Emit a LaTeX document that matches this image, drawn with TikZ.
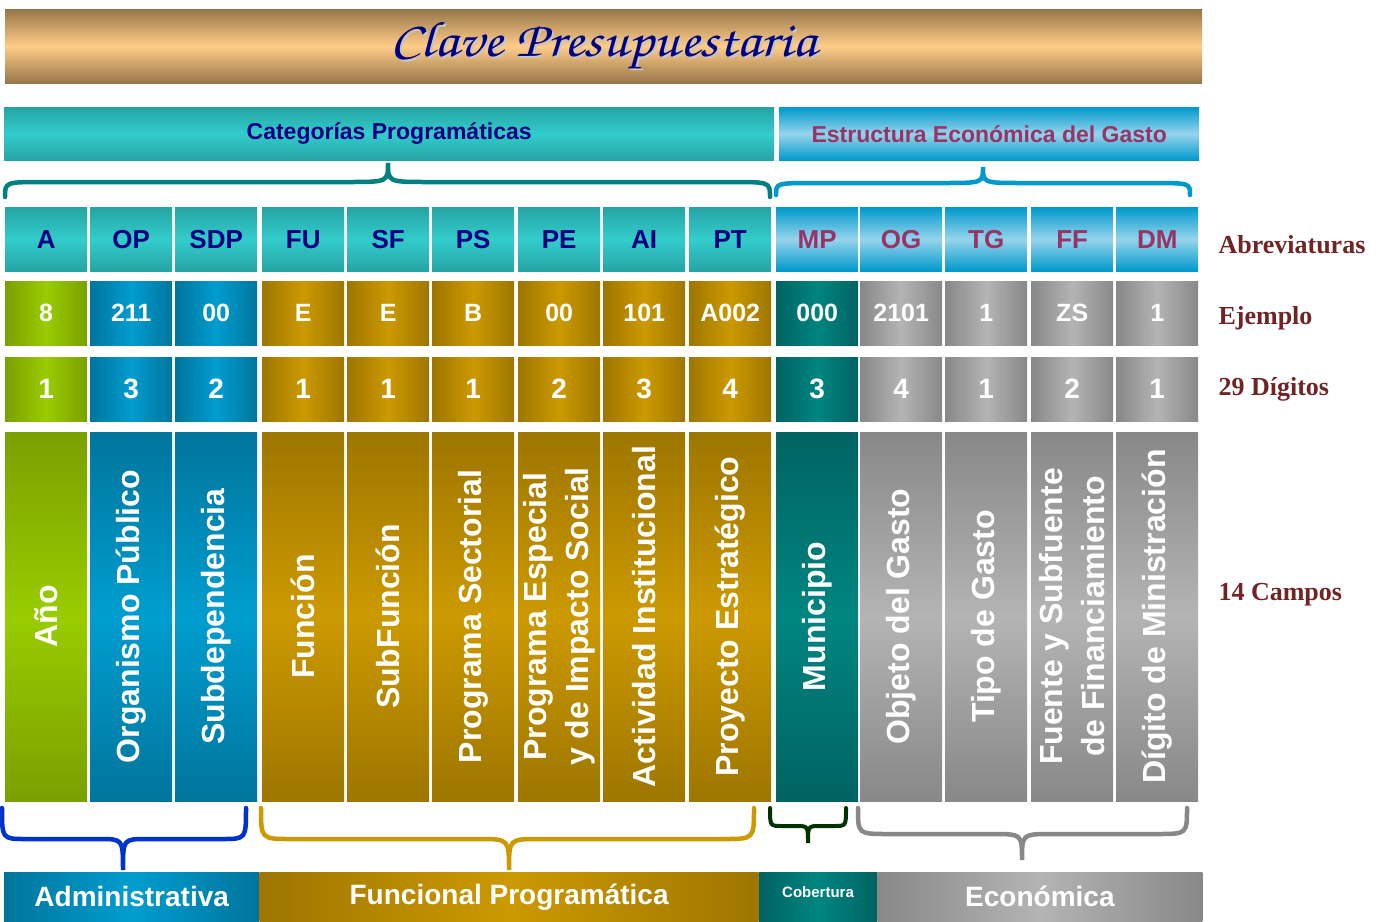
\documentclass[tikz,border=0pt]{standalone}
\usepackage{fontspec}
\setmainfont{Liberation Sans}
\newfontfamily\romana{Liberation Serif}
\usetikzlibrary{positioning}

\definecolor{cabT}{RGB}{38,164,164}
\definecolor{cabTc}{RGB}{51,204,204}
\definecolor{cabA}{RGB}{0,153,204}
\definecolor{cabAc}{RGB}{150,212,236}
\definecolor{azulT}{RGB}{0,0,128}
\definecolor{rosa}{RGB}{153,51,102}
\definecolor{verB}{RGB}{122,160,0}
\definecolor{verC}{RGB}{153,204,0}
\definecolor{azuB}{RGB}{0,117,156}
\definecolor{azuC}{RGB}{0,157,207}
\definecolor{oroB}{RGB}{158,118,0}
\definecolor{oroC}{RGB}{204,153,0}
\definecolor{tealB}{RGB}{0,99,99}
\definecolor{tealC}{RGB}{0,133,128}
\definecolor{grisB}{RGB}{136,136,136}
\definecolor{grisC}{RGB}{180,180,180}
\definecolor{cafeB}{RGB}{150,118,72}
\definecolor{cafeC}{RGB}{255,204,136}
\definecolor{vino}{RGB}{112,36,36}
\definecolor{llaveAz}{RGB}{0,51,204}
\definecolor{llaveVd}{RGB}{0,51,0}

\newcommand{\letracursiva}{\fontencoding{OT1}\fontfamily{pzc}\fontseries{mb}\fontshape{it}\fontsize{50}{54}\selectfont}
% llave: grosor, color, x izq, x der, x punta, y extremos, y tramo, y punta, radio
\newcommand{\llave}[9][4.5pt]{\draw[line width=#1,line cap=round,#2] (#3,#6) .. controls (#3,#7) .. (#3+#9,#7) -- (#5-#9,#7) .. controls (#5,#7) .. (#5,#8) .. controls (#5,#7) .. (#5+#9,#7) -- (#4-#9,#7) .. controls (#4,#7) .. (#4,#6);}

\begin{document}
\begin{tikzpicture}[x=1pt,y=-1pt,
    hsombra/.style 2 args={left color=#1,right color=#1,middle color=#2},
    vsombra/.style 2 args={top color=#1,bottom color=#1,middle color=#2},
    cabecera/.style={anchor=north west,minimum height=53pt,inner sep=0pt,font=\fontsize{23}{28}\selectfont\bfseries},
    abrev/.style={anchor=north west,minimum width=82pt,minimum height=64pt,inner sep=0pt,font=\fontsize{26}{30}\selectfont\bfseries},
    celda/.style={abrev,text=white,font=\fontsize{25}{30}\selectfont\bfseries},
    digito/.style={abrev,text=white,font=\fontsize{28}{30}\selectfont\bfseries},
    campo/.style={rotate=90,minimum width=369pt,minimum height=82pt,inner sep=0pt,align=center,text=white,font=\fontsize{32}{42}\selectfont\bfseries},
    barra/.style={anchor=north west,minimum height=49pt,inner sep=0pt,text=white,font=\fontsize{28}{32}\selectfont\bfseries},
    etiq/.style={anchor=base west,text=vino,font=\romana\fontsize{26}{30}\selectfont\bfseries}]
  \useasboundingbox[fill=white] (0,0) rectangle (1383,921);

  % titulo
  \node[anchor=north west,minimum width=1197pt,minimum height=74pt,inner sep=0pt,vsombra={cafeB}{cafeC}] (titulo) at (5,9) {};
  \node[text=gray!45,xscale=1.15] (sombra) at ([shift={(2,2)}]titulo.center) {\letracursiva Clave Presupuestaria};
  \node[text=azulT,xscale=1.15] (tit) at (titulo.center) {\letracursiva Clave Presupuestaria};

  % cabeceras
  \node[cabecera,minimum width=770pt,vsombra={cabT}{cabTc},text=azulT] (catprog) at (4,107) {Categorías Programáticas};
  \node[cabecera,minimum width=420pt,vsombra={cabA}{cabAc},text=rosa] (estruc) at (779,107) {Estructura Económica del Gasto};
  \llave{teal}{5}{770}{388}{197}{182}{163}{40}
  \llave{cabA}{776}{1190}{983}{195}{183}{167}{40}

  % abreviaturas
  \foreach \ii/\xx/\ab in {1/5/A,2/90/OP,3/175/SDP,4/262/FU,5/347/SF,6/432/PS,7/518/PE,8/603/AI,9/689/PT}
    \node[abrev,vsombra={cabT}{cabTc},text=azulT] (ab\ii) at (\xx,207) {\ab};
  \foreach \ii/\xx/\ab in {10/776/MP,11/860/OG,12/945/TG,13/1031/FF,14/1116/DM}
    \node[abrev,vsombra={cabA}{cabAc},text=rosa] (ab\ii) at (\xx,207) {\ab};

  % ejemplo, digitos y campos
  \foreach \ii/\xx/\ej/\dig/\nom/\bor/\cen in {
      1/5/8/1/Año/verB/verC,
      2/90/211/3/Organismo Público/azuB/azuC,
      3/175/00/2/Subdependencia/azuB/azuC,
      4/262/E/1/Función/oroB/oroC,
      5/347/E/1/SubFunción/oroB/oroC,
      6/432/B/1/Programa Sectorial/oroB/oroC,
      7/518/00/2/{Programa Especial\\y de Impacto Social}/oroB/oroC,
      8/603/101/3/Actividad Institucional/oroB/oroC,
      9/689/A002/4/Proyecto Estratégico/oroB/oroC,
      10/776/000/3/Municipio/tealB/tealC,
      11/860/2101/4/Objeto del Gasto/grisB/grisC,
      12/945/1/1/Tipo de Gasto/grisB/grisC,
      13/1031/ZS/2/{Fuente y Subfuente\\de Financiamiento}/grisB/grisC,
      14/1116/1/1/Dígito de Ministración/grisB/grisC}{
    \node[celda,hsombra={\bor}{\cen}] (ej\ii) at (\xx,281) {\ej};
    \node[digito,hsombra={\bor}{\cen}] (dg\ii) at (\xx,357) {\dig};
    \node[campo,vsombra={\bor}{\cen}] (cp\ii) at (\xx+41,616.5) {\nom};
  }

  % etiquetas de la derecha
  \node[etiq] (labrev) at (1215,253) {Abreviaturas};
  \node[etiq] (lejem) at (1215,324) {Ejemplo};
  \node[etiq] (ldig) at (1215,395) {29 Dígitos};
  \node[etiq] (lcamp) at (1215,600) {14 Campos};

  % llaves inferiores
  \llave{llaveAz}{2}{246}{123}{808}{839}{870}{24}
  \llave{oroC}{261}{754}{509}{808}{839}{870}{30}
  \llave[4pt]{llaveVd}{770}{846}{808}{808}{826}{843}{12}
  \llave{grisB}{858}{1187}{1022}{808}{834}{860}{30}

  % barras inferiores
  \node[barra,minimum width=255pt,hsombra={azuB}{azuC}] (adm) at (4,872) {Administrativa};
  \node[barra,minimum width=499pt,hsombra={oroB}{oroC}] (fun) at (adm.north east) {Funcional Programática};
  \node[barra,minimum width=118pt,hsombra={tealB}{tealC},font=\fontsize{15}{18}\selectfont\bfseries] (cob) at (fun.north east) {\raisebox{9pt}{Cobertura}};
  \node[barra,minimum width=325pt,hsombra={grisB}{grisC}] (eco) at (cob.north east) {Económica};
\end{tikzpicture}
\end{document}
